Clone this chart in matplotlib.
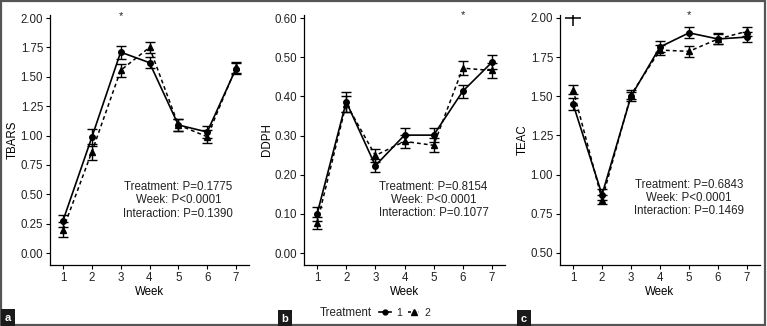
import matplotlib.pyplot as plt
from matplotlib.lines import Line2D
from matplotlib.patches import Rectangle

plt.rcParams['font.family'] = ['Liberation Sans', 'DejaVu Sans']

weeks = [1, 2, 3, 4, 5, 6, 7]

# TBARS
tbars_t1 = [0.275, 0.985, 1.71, 1.62, 1.09, 1.03, 1.57]
tbars_t1_se = [0.05, 0.07, 0.055, 0.045, 0.05, 0.055, 0.05]
tbars_t2 = [0.20, 0.86, 1.555, 1.75, 1.09, 0.99, 1.58]
tbars_t2_se = [0.065, 0.07, 0.055, 0.045, 0.05, 0.055, 0.05]

# DDPH
ddph_t1 = [0.100, 0.386, 0.223, 0.301, 0.301, 0.413, 0.487]
ddph_t1_se = [0.018, 0.025, 0.017, 0.017, 0.017, 0.017, 0.018]
ddph_t2 = [0.077, 0.381, 0.249, 0.285, 0.275, 0.472, 0.466]
ddph_t2_se = [0.016, 0.020, 0.016, 0.016, 0.018, 0.017, 0.018]

# TEAC
teac_t1 = [1.451, 0.872, 1.50, 1.815, 1.905, 1.866, 1.878]
teac_t1_se = [0.04, 0.035, 0.03, 0.035, 0.035, 0.035, 0.03]
teac_t2 = [1.543, 0.84, 1.51, 1.795, 1.787, 1.866, 1.915]
teac_t2_se = [0.03, 0.03, 0.03, 0.03, 0.035, 0.03, 0.03]

stats_a = ["Treatment: P=0.1775", "Week: P<0.0001", "Interaction: P=0.1390"]
stats_b = ["Treatment: P=0.8154", "Week: P<0.0001", "Interaction: P=0.1077"]
stats_c = ["Treatment: P=0.6843", "Week: P<0.0001", "Interaction: P=0.1469"]

W, H = 767, 326
fig = plt.figure(figsize=(W / 100, H / 100), dpi=100)
fs = 8.3
txt = '#222222'


def px_axes(x0, x1, y_top, y_bot):
    return fig.add_axes([x0 / W, 1 - y_bot / H, (x1 - x0) / W, (y_bot - y_top) / H])


def panel(ax, t1, s1, t2, s2, ylab, ylim, yticks, stats, stat_y, star_x, star_y):
    ax.errorbar(weeks, t2, yerr=s2, color='black', lw=1.1, ls=(0, (2.5, 2)),
                marker='^', ms=4.5, capsize=3.5, elinewidth=1.0, capthick=1.0)
    ax.errorbar(weeks, t1, yerr=s1, color='black', lw=1.2, ls='-',
                marker='o', ms=4, capsize=3.5, elinewidth=1.0, capthick=1.0)
    ax.set_xlim(0.55, 7.45)
    ax.set_ylim(*ylim)
    ax.set_xticks(weeks)
    ax.set_yticks(yticks)
    ax.set_yticklabels([f"{v:.2f}" for v in yticks])
    ax.set_xlabel("Week", fontsize=fs, labelpad=1.5)
    ax.set_ylabel(ylab, fontsize=fs, labelpad=1)
    ax.tick_params(labelsize=fs, length=3, width=0.8, colors='black',
                   labelcolor=txt, pad=2)
    for s in ['top', 'right']:
        ax.spines[s].set_visible(False)
    for s in ['left', 'bottom']:
        ax.spines[s].set_linewidth(0.9)
    ax.text(5, stat_y, "\n".join(stats), ha='center', va='center',
            fontsize=fs, color=txt, linespacing=1.15)
    ax.text(star_x, star_y, "*", ha='center', va='center', fontsize=8, color=txt)


ax_a = px_axes(50, 249, 15, 265)
panel(ax_a, tbars_t1, tbars_t1_se, tbars_t2, tbars_t2_se, "TBARS",
      (-0.102, 2.026), [0, 0.25, 0.5, 0.75, 1.0, 1.25, 1.5, 1.75, 2.0],
      stats_a, 0.45, 3, 2.02)

ax_b = px_axes(304, 505, 15, 265)
panel(ax_b, ddph_t1, ddph_t1_se, ddph_t2, ddph_t2_se, "DDPH",
      (-0.0306, 0.6077), [0, 0.1, 0.2, 0.3, 0.4, 0.5, 0.6],
      stats_b, 0.135, 6, 0.607)

ax_c = px_axes(560, 760, 15, 265)
panel(ax_c, teac_t1, teac_t1_se, teac_t2, teac_t2_se, "TEAC",
      (0.423, 2.019), [0.5, 0.75, 1.0, 1.25, 1.5, 1.75, 2.0],
      stats_c, 0.85, 5, 2.018)
ax_c.plot([1], [2.0], marker='+', ms=11, mew=1.1, color='black')

# legend
fig.text(320 / W, 1 - 313 / H, "Treatment", fontsize=fs, color=txt,
         ha='left', va='center')
handles = [
    Line2D([], [], color='black', lw=1.2, marker='o', ms=3.5),
    Line2D([], [], color='black', lw=1.1, ls=(0, (2, 1.5)), marker='^', ms=4),
]
fig.legend(handles, ["1", "2"], ncol=2, loc='center left',
           bbox_to_anchor=(374 / W, 1 - 313 / H), frameon=False,
           fontsize=fs - 0.8, handlelength=1.1, handletextpad=0.5,
           columnspacing=0.6, borderpad=0, labelcolor=txt)

# panel labels
for lab, x, y in [("a", 8, 318), ("b", 285, 319), ("c", 524, 319)]:
    fig.text(x / W, 1 - y / H, lab, fontsize=8, color='white', ha='center',
             va='center', fontweight='bold',
             bbox=dict(boxstyle='square,pad=0.35', fc='#1a1a1a', ec='none'))

fig.patches.append(Rectangle((0.001, 0.002), 0.997, 0.996, transform=fig.transFigure,
                             fill=False, ec='#555555', lw=1.6))

fig.savefig("out.png", dpi=100)
